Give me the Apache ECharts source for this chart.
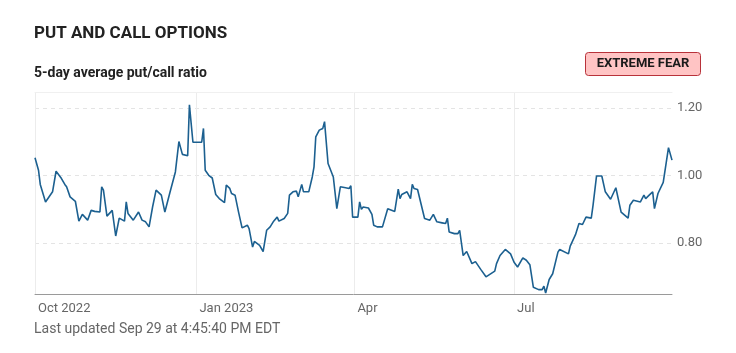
<!DOCTYPE html>
<html>
<head>
<meta charset="utf-8">
<script src="https://cdn.jsdelivr.net/npm/echarts@6/dist/echarts.min.js"></script>
<style>
  html, body { margin: 0; padding: 0; background: #fff; }
  #chart { width: 736px; height: 353px; }
</style>
</head>
<body>
<div id="chart"></div>
<script>
// 5-day average put/call ratio
const dates = [
  '2022-10-01', '2022-10-03', '2022-10-04', '2022-10-07', '2022-10-11', '2022-10-13', '2022-10-16', '2022-10-18',
  '2022-10-19', '2022-10-21', '2022-10-24', '2022-10-26', '2022-10-28', '2022-10-31', '2022-11-02', '2022-11-04',
  '2022-11-07', '2022-11-08', '2022-11-09', '2022-11-11', '2022-11-14', '2022-11-16', '2022-11-18', '2022-11-21',
  '2022-11-22', '2022-11-23', '2022-11-26', '2022-11-29', '2022-12-01', '2022-12-03', '2022-12-05', '2022-12-07',
  '2022-12-09', '2022-12-12', '2022-12-14', '2022-12-17', '2022-12-20', '2022-12-22', '2022-12-24', '2022-12-27',
  '2022-12-28', '2022-12-30', '2023-01-04', '2023-01-05', '2023-01-06', '2023-01-08', '2023-01-10', '2023-01-12',
  '2023-01-14', '2023-01-17', '2023-01-18', '2023-01-20', '2023-01-21', '2023-01-23', '2023-01-24', '2023-01-25',
  '2023-01-27', '2023-01-30', '2023-01-31', '2023-02-02', '2023-02-03', '2023-02-06', '2023-02-08', '2023-02-10',
  '2023-02-12', '2023-02-14', '2023-02-15', '2023-02-16', '2023-02-17', '2023-02-20', '2023-02-22', '2023-02-23',
  '2023-02-25', '2023-02-27', '2023-02-28', '2023-03-02', '2023-03-03', '2023-03-06', '2023-03-08', '2023-03-09',
  '2023-03-10', '2023-03-12', '2023-03-14', '2023-03-15', '2023-03-17', '2023-03-20', '2023-03-22', '2023-03-24',
  '2023-03-27', '2023-03-29', '2023-03-30', '2023-03-31', '2023-04-03', '2023-04-04', '2023-04-05', '2023-04-06',
  '2023-04-09', '2023-04-11', '2023-04-12', '2023-04-14', '2023-04-17', '2023-04-20', '2023-04-21', '2023-04-24',
  '2023-04-26', '2023-04-27', '2023-04-28', '2023-05-01', '2023-05-03', '2023-05-04', '2023-05-05', '2023-05-07',
  '2023-05-11', '2023-05-12', '2023-05-14', '2023-05-16', '2023-05-18', '2023-05-21', '2023-05-23', '2023-05-24',
  '2023-05-25', '2023-05-28', '2023-05-30', '2023-05-31', '2023-06-02', '2023-06-04', '2023-06-07', '2023-06-09',
  '2023-06-12', '2023-06-13', '2023-06-15', '2023-06-20', '2023-06-21', '2023-06-22', '2023-06-23', '2023-06-26',
  '2023-06-27', '2023-06-29', '2023-07-01', '2023-07-03', '2023-07-06', '2023-07-08', '2023-07-10', '2023-07-12',
  '2023-07-15', '2023-07-17', '2023-07-18', '2023-07-19', '2023-07-21', '2023-07-23', '2023-07-26', '2023-07-27',
  '2023-08-01', '2023-08-02', '2023-08-05', '2023-08-07', '2023-08-09', '2023-08-11', '2023-08-14', '2023-08-15',
  '2023-08-17', '2023-08-20', '2023-08-22', '2023-08-25', '2023-08-28', '2023-08-31', '2023-09-04', '2023-09-05',
  '2023-09-07', '2023-09-11', '2023-09-13', '2023-09-14', '2023-09-16', '2023-09-18', '2023-09-19', '2023-09-21',
  '2023-09-24', '2023-09-27', '2023-09-29'
];
const ratios = [
  1.053, 1.016, 0.974, 0.922, 0.952, 1.013, 0.992, 0.974,
  0.967, 0.937, 0.924, 0.865, 0.885, 0.868, 0.897, 0.894,
  0.892, 0.967, 0.957, 0.880, 0.897, 0.821, 0.874, 0.865,
  0.922, 0.888, 0.868, 0.892, 0.868, 0.863, 0.848, 0.907,
  0.957, 0.942, 0.892, 0.952, 1.011, 1.101, 1.063, 1.059,
  1.210, 1.099, 1.099, 1.140, 1.016, 1.001, 0.993, 0.944,
  0.932, 0.920, 0.972, 0.962, 0.947, 0.942, 0.947, 0.892,
  0.845, 0.853, 0.843, 0.788, 0.805, 0.793, 0.775, 0.838,
  0.848, 0.865, 0.868, 0.877, 0.865, 0.873, 0.888, 0.942,
  0.952, 0.954, 0.937, 0.974, 0.952, 0.952, 0.996, 1.026,
  1.115, 1.135, 1.140, 1.160, 1.036, 0.996, 0.902, 0.967,
  0.964, 0.962, 0.970, 0.877, 0.877, 0.922, 0.900, 0.907,
  0.904, 0.885, 0.853, 0.848, 0.848, 0.902, 0.897, 0.894,
  0.960, 0.932, 0.944, 0.952, 0.932, 0.974, 0.962, 0.959,
  0.873, 0.868, 0.868, 0.885, 0.863, 0.860, 0.858, 0.874,
  0.833, 0.828, 0.828, 0.838, 0.763, 0.775, 0.739, 0.745,
  0.722, 0.726, 0.700, 0.717, 0.739, 0.734, 0.763, 0.781,
  0.778, 0.768, 0.743, 0.729, 0.756, 0.749, 0.736, 0.669,
  0.662, 0.662, 0.672, 0.652, 0.692, 0.709, 0.773, 0.781,
  0.768, 0.791, 0.825, 0.858, 0.855, 0.877, 0.874, 0.912,
  0.999, 0.999, 0.952, 0.930, 0.964, 0.892, 0.874, 0.912,
  0.927, 0.922, 0.942, 0.932, 0.942, 0.952, 0.902, 0.947,
  0.980, 1.083, 1.046
];
const xTickDates = ['2022-10-01', '2023-01-01', '2023-04-01', '2023-07-01'];
const xTickLabels = ['Oct 2022', 'Jan 2023', 'Apr', 'Jul'];
const yTicks = [0.8, 1.0, 1.2];

function toTime(s) {
  const p = s.split('-').map(Number);
  return Date.UTC(p[0], p[1] - 1, p[2]);
}

const xTickTimes = xTickDates.map(toTime);
const seriesData = dates.map((d, i) => [toTime(d), ratios[i]]);
const xMin = toTime(dates[0]);
const xMax = toTime(dates[dates.length - 1]);

const chart = echarts.init(document.getElementById('chart'));
const option = {
  animation: false,
  backgroundColor: '#fff',
  textStyle: { fontFamily: 'Roboto, "Noto Sans", sans-serif' },
  grid: { left: 35, right: 64, top: 92, bottom: 59 },
  xAxis: [
    {
      type: 'value',
      min: xMin,
      max: xMax,
      axisLine: { show: true, lineStyle: { color: '#9a9a9a', width: 1 } },
      axisTick: { show: false, customValues: xTickTimes },
      axisLabel: {
        customValues: xTickTimes,
        align: 'left',
        margin: 8,
        padding: [0, 0, 0, 3],
        color: '#666',
        fontSize: 13,
        formatter: function (val) {
          const i = xTickTimes.indexOf(val);
          return i >= 0 ? xTickLabels[i] : '';
        }
      },
      splitLine: { show: true, lineStyle: { color: '#ececec', width: 1 } }
    },
    {
      type: 'value',
      position: 'top',
      min: xMin,
      max: xMax,
      axisLine: { show: true, lineStyle: { color: '#f0f0f0', width: 1 } },
      axisTick: { show: false },
      axisLabel: { show: false },
      splitLine: { show: false }
    }
  ],
  yAxis: {
    type: 'value',
    position: 'right',
    min: 0.649,
    max: 1.248,
    axisLine: { show: false },
    axisTick: { show: false, customValues: yTicks },
    axisLabel: {
      customValues: yTicks,
      margin: 5,
      color: '#666',
      fontSize: 13,
      formatter: v => v.toFixed(2)
    },
    splitLine: { show: true, lineStyle: { color: '#e4e4e4', type: [4, 4], width: 1 } }
  },
  series: [
    {
      type: 'line',
      data: seriesData,
      showSymbol: false,
      symbol: 'none',
      lineStyle: { color: '#1c6090', width: 1.6 },
      clip: true
    }
  ],
  graphic: [
    {
      type: 'text', left: 34, top: 25,
      style: { text: 'PUT AND CALL OPTIONS', fill: '#222', font: 'bold 17px Roboto, sans-serif' }
    },
    {
      type: 'text', left: 34, top: 66,
      style: { text: '5-day average put/call ratio', fill: '#222', font: 'bold 14px Roboto, sans-serif' }
    },
    {
      type: 'group', left: 585, top: 52,
      children: [
        {
          type: 'rect',
          shape: { x: 0, y: 0, width: 115, height: 23, r: 3 },
          style: { fill: '#ffc4c4', stroke: '#b8323a', lineWidth: 1 }
        },
        {
          type: 'text', x: 57.5, y: 11.5,
          style: {
            text: 'EXTREME FEAR', fill: '#1a1a1a', align: 'center', verticalAlign: 'middle',
            font: 'bold 13px Roboto, sans-serif'
          }
        }
      ]
    },
    {
      type: 'text', left: 34, top: 322,
      style: { text: 'Last updated Sep 29 at 4:45:40 PM EDT', fill: '#666', font: '14px Roboto, sans-serif' }
    }
  ]
};
chart.setOption(option);
</script>
</body>
</html>
